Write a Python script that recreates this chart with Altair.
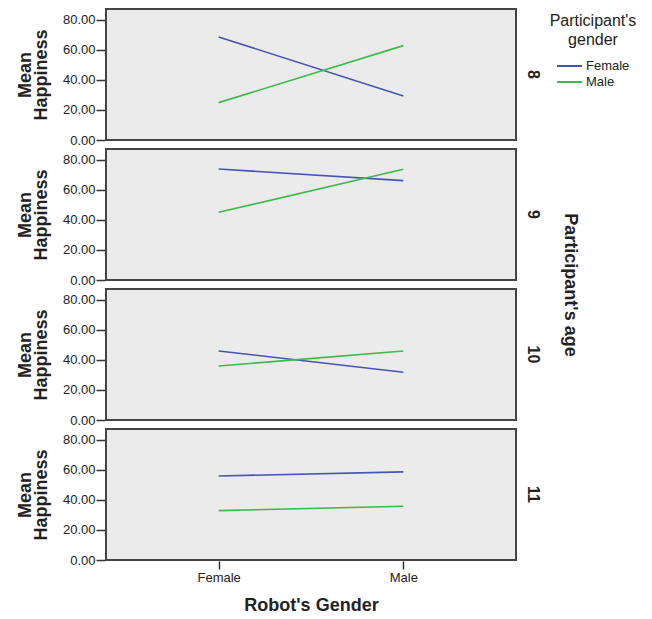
import altair as alt
import pandas as pd

ages = ["8", "9", "10", "11"]
robot_genders = ["Female", "Male"]
participant_genders = ["Female", "Male"]

# Mean happiness per age, for robot gender Female / Male
female_participant_robot_female = [68.7, 74.0, 46.0, 56.0]
female_participant_robot_male = [29.3, 66.2, 31.8, 58.7]
male_participant_robot_female = [24.9, 45.1, 36.0, 32.9]
male_participant_robot_male = [62.9, 73.8, 46.0, 35.8]

rows = []
for i, a in enumerate(ages):
    rows.append({"age": a, "pg": "Female", "robot": "Female", "mean": female_participant_robot_female[i]})
    rows.append({"age": a, "pg": "Female", "robot": "Male", "mean": female_participant_robot_male[i]})
    rows.append({"age": a, "pg": "Male", "robot": "Female", "mean": male_participant_robot_female[i]})
    rows.append({"age": a, "pg": "Male", "robot": "Male", "mean": male_participant_robot_male[i]})
df = pd.DataFrame(rows)

FONT = "Liberation Sans"

base = alt.Chart(df).mark_line(strokeWidth=1.6).encode(
    x=alt.X("robot:N", sort=robot_genders,
            scale=alt.Scale(type="point", padding=0.61),
            axis=alt.Axis(title="Robot's Gender", labelAngle=0, domain=False,
                          tickColor="#333", tickSize=8, tickWidth=1.5,
                          labelFont=FONT, labelFontSize=13, labelColor="#222",
                          labelPadding=2,
                          titleFont=FONT, titleFontSize=18, titleFontWeight="bold",
                          titleColor="#222", titlePadding=12)),
    y=alt.Y("mean:Q", scale=alt.Scale(domain=[0, 87.3], nice=False, zero=True),
            axis=alt.Axis(values=[0, 20, 40, 60, 80], format=".2f",
                          title=["Mean", "Happiness"], grid=False, domain=False,
                          tickColor="#333", tickSize=9, tickWidth=1.5,
                          labelFont=FONT, labelFontSize=13, labelColor="#222",
                          labelPadding=1,
                          titleFont=FONT, titleFontSize=18, titleFontWeight="bold",
                          titleColor="#222", titlePadding=12, titleLineHeight=16)),
    color=alt.Color("pg:N",
                    scale=alt.Scale(domain=participant_genders, range=["#4455b2", "#3cba4a"]),
                    legend=alt.Legend(title=["Participant's", "gender"], orient="none",
                                      legendX=444, legendY=4,
                                      titleFont=FONT, titleFontSize=16, titleFontWeight="normal",
                                      titleColor="#222", titleAlign="center", titleAnchor="middle",
                                      titleLineHeight=19, titlePadding=10,
                                      labelFont=FONT, labelFontSize=13, labelColor="#222",
                                      symbolType="stroke", symbolSize=625, symbolStrokeWidth=2,
                                      clipHeight=16,
                                      labelOffset=3, rowPadding=0)),
).properties(width=410, height=131)

chart = base.facet(
    row=alt.Row("age:N", sort=ages, title="Participant's age",
                header=alt.Header(labelAngle=90, labelOrient="right", labelFont=FONT,
                                  labelFontSize=16, labelFontWeight="bold", labelColor="#222",
                                  labelPadding=8,
                                  titleOrient="right", titleAngle=90, titleFont=FONT,
                                  titleFontSize=18, titleFontWeight="bold", titleColor="#222",
                                  titlePadding=10)),
    spacing=7,
).properties(
    padding={"left": 8, "top": 0, "right": 5, "bottom": 5}
).configure_view(
    fill="#ebebeb", stroke="#444", strokeWidth=2
)

chart.save("out.html", embed_options={"renderer": "svg", "actions": False})
